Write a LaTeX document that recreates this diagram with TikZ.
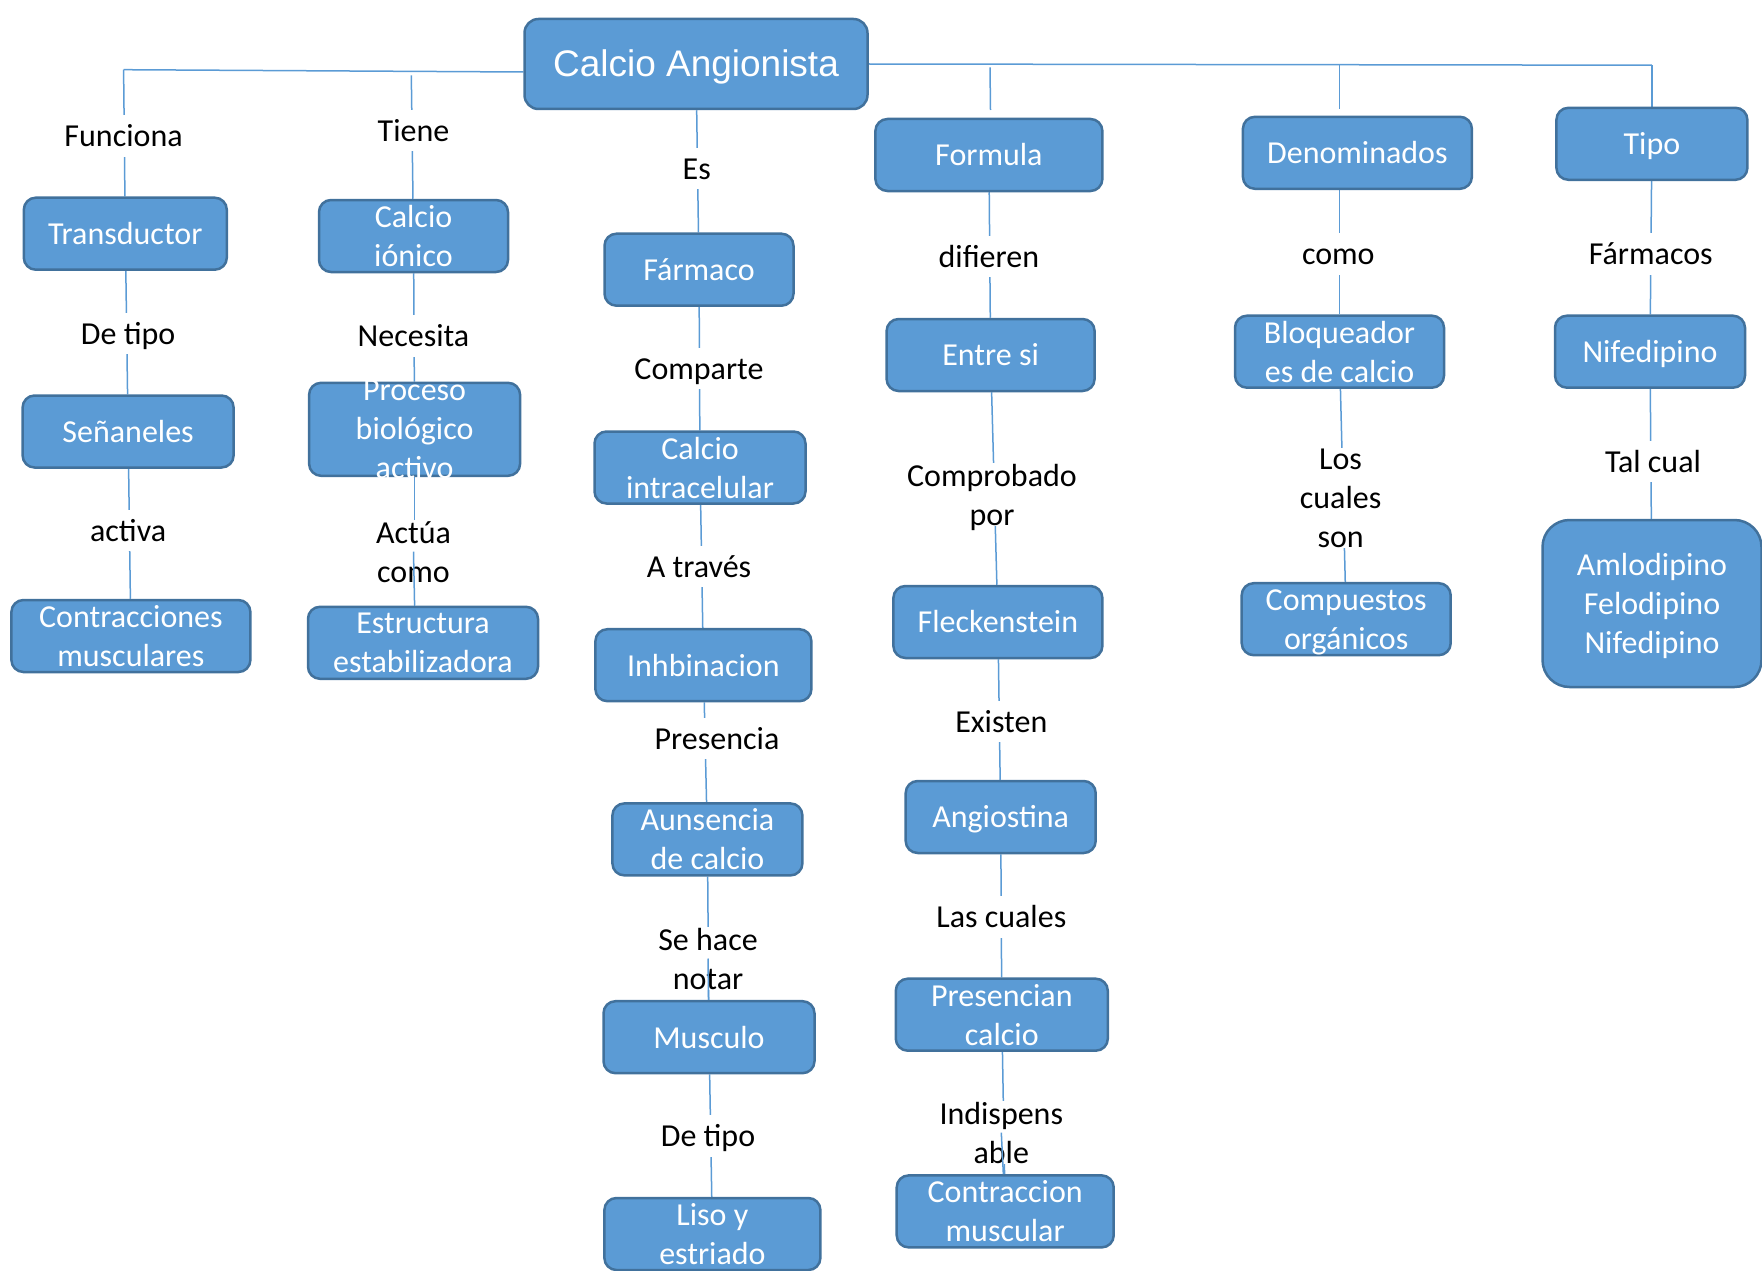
\documentclass[tikz,border=0pt]{standalone}
\usepackage{fontspec}
\setmainfont{Carlito}
\newfontfamily\titlefont{Liberation Sans}
\usepackage{tikz}
\usetikzlibrary{positioning}
\usetikzlibrary{backgrounds}
\definecolor{boxfill}{HTML}{5B9BD5}
\definecolor{boxborder}{HTML}{41719C}
\definecolor{linkblue}{HTML}{5B9BD5}
\newcommand{\cmapfont}{\fontsize{32}{39}\selectfont}
\newcommand{\linestrut}{\rule[-8.6pt]{0pt}{39.1pt}}
\newcommand{\titlestrut}{\rule[-7.8pt]{0pt}{41.3pt}}

\begin{document}
\begin{tikzpicture}[x=1pt,y=-1pt]
\tikzstyle{concept}=[rectangle,rounded corners=12pt,
  draw=boxborder,line width=2.5pt,fill=boxfill,text=white,
  align=center,font=\cmapfont,
  inner xsep=4pt,inner ysep=0pt,
  minimum height=72pt,text depth=8.6pt,
  execute at begin node=\linestrut
]

\tikzstyle{linkword}=[fill=white,text=black,
  align=center,font=\cmapfont,
  inner xsep=3pt,inner ysep=1pt,text depth=8.6pt,
  execute at begin node=\linestrut
]

% text with several lines sits a bit lower
\tikzstyle{stacked}=[text depth=-2.6pt]

\tikzstyle{link}=[draw=linkblue,line width=1.5pt]

\useasboundingbox (0,0) rectangle (1762,1271);

\node[concept,minimum width=343pt,minimum height=90pt,rounded corners=14pt,
  font=\titlefont\fontsize{37}{41}\selectfont,text depth=7.8pt,
  execute at begin node=\titlestrut] (root) at (696,64) {Calcio Angionista};

% Funciona
\coordinate (c1top) at (123.6,69.7);
\node[concept,minimum width=203pt] (transductor) at (125.3,233.7) {Transductor};
\node[concept,minimum width=211pt] (senaneles) at (128.1,431.5) {Señaneles};
\node[concept,stacked,minimum width=239pt] (contracciones) at (130.9,636) {Contracciones\\musculares};
\node[linkword] (funciona) at (123.6,136) {Funciona};
\node[linkword] (detipoA) at (128.1,333.7) {De tipo};
\node[linkword] (activa) at (128.1,530.4) {activa};

% Tiene
\coordinate (c2top) at (411.3,75.3);
\node[concept,stacked,minimum width=189pt] (ionico) at (413.5,236) {Calcio\\iónico};
\node[concept,stacked,minimum width=211pt,minimum height=93pt,inner ysep=-7pt] (proceso) at (414.6,429.3) {Proceso\\biológico\\activo};
\node[concept,stacked,minimum width=230pt] (estructura) at (423,642.8) {Estructura\\estabilizadora};
\node[linkword] (tiene) at (413.5,130.4) {Tiene};
\node[linkword] (necesita) at (413.5,336) {Necesita};
\node[linkword,stacked] (actua) at (413.5,551.7) {Actúa\\como};

% Es
\node[concept,minimum width=189pt] (farmaco) at (699,269.7) {Fármaco};
\node[concept,stacked,minimum width=211pt] (intracelular) at (700,467.5) {Calcio\\intracelular};
\node[concept,minimum width=216pt] (inhbinacion) at (703.4,665.2) {Inhbinacion};
\node[concept,stacked,minimum width=190pt] (ausencia) at (707.4,839.4) {Aunsencia\\de calcio};
\node[concept,minimum width=211pt] (musculo) at (709,1037.2) {Musculo};
\node[concept,stacked,minimum width=216pt] (liso) at (712.4,1234) {Liso y\\estriado};
\node[linkword] (es) at (696.7,168.6) {Es};
\node[linkword] (comparte) at (699,368.6) {Comparte};
\node[linkword] (atraves) at (699,566.3) {A través};
\node[linkword] (presencia) at (717,738.3) {Presencia};
\node[linkword,stacked] (sehace) at (708,958.5) {Se hace\\notar};
\node[linkword] (detipoB) at (708,1136) {De tipo};

% Formula
\coordinate (c4top) at (990,67.4);
\coordinate (c4end) at (990.5,110);
\node[concept,minimum width=227pt] (formula) at (988.9,155) {Formula};
\node[concept,minimum width=208pt] (entresi) at (990.6,355) {Entre si};
\node[concept,minimum width=209pt] (fleckenstein) at (997.9,622) {Fleckenstein};
\node[concept,minimum width=190pt] (angiostina) at (1000.7,817) {Angiostina};
\node[concept,stacked,minimum width=212pt] (presencian) at (1001.8,1014.7) {Presencian\\calcio};
\node[concept,stacked,minimum width=217pt] (contraccion) at (1005.2,1211.4) {Contraccion\\muscular};
\node[linkword] (difieren) at (988.9,256.2) {difieren};
\node[linkword,stacked] (comprobado) at (992,494.4) {Comprobado\\por};
\node[linkword] (existen) at (1001.3,721.4) {Existen};
\node[linkword] (lascuales) at (1001.3,917) {Las cuales};
\node[linkword,stacked] (indispens) at (1001.3,1132.7) {Indispens\\able};

% Denominados
\coordinate (c5top) at (1339.5,65.2);
\coordinate (c5end) at (1339.5,109);
\node[concept,minimum width=229pt] (denominados) at (1357.4,152.8) {Denominados};
\node[concept,stacked,minimum width=209pt] (bloqueadores) at (1339.5,351.7) {Bloqueador\\es de calcio};
\node[concept,stacked,minimum width=209pt] (compuestos) at (1346.2,619.2) {Compuestos\\orgánicos};
\node[linkword] (como) at (1338.3,254) {como};
\node[linkword,stacked] (loscuales) at (1340.6,497.8) {Los\\cuales\\son};

% Tipo
\coordinate (c6top) at (1651.9,65.2);
\node[concept,minimum width=191pt] (tipo) at (1651.9,143.8) {Tipo};
\node[concept,minimum width=190pt] (nifedipino) at (1650,351.7) {Nifedipino};
\node[concept,stacked,minimum width=219pt,minimum height=167pt,rounded corners=27pt] (dipinos) at (1652,603.5) {Amlodipino\\Felodipino\\Nifedipino};
\node[linkword] (farmacos) at (1650.7,254) {Fármacos};
\node[linkword] (talcual) at (1653,461.8) {Tal cual};

\begin{scope}[on background layer]
  \draw[link] (c1top) -- ([yshift=-8pt]root.west);
  \draw[link] (root.east) -- (c6top);
  \draw[link] (c2top) -- (ionico);
  \draw[link] (c4top) -- (c4end);
  \draw[link] (c5top) -- (c5end);
  \draw[link] (proceso.south) -- (proceso.south |- estructura.north);
  \draw[link] (denominados.south -| bloqueadores) -- (bloqueadores);
  \foreach \a/\b in {c1top/transductor,transductor/senaneles,senaneles/contracciones,
    ionico/proceso,
    root/farmaco,farmaco/intracelular,intracelular/inhbinacion,inhbinacion/ausencia,
    ausencia/musculo,musculo/liso,
    formula/entresi,entresi/fleckenstein,fleckenstein/angiostina,angiostina/presencian,
    presencian/contraccion,
    bloqueadores/compuestos,
    c6top/tipo,tipo/nifedipino,nifedipino/dipinos}
    \draw[link] (\a) -- (\b);
\end{scope}

\draw[link] (actua.center) -- (proceso.south |- estructura.north);
\draw[link] (sehace.center) -- (musculo);
\draw[link] (indispens.center) -- (contraccion);
\end{tikzpicture}
\end{document}
